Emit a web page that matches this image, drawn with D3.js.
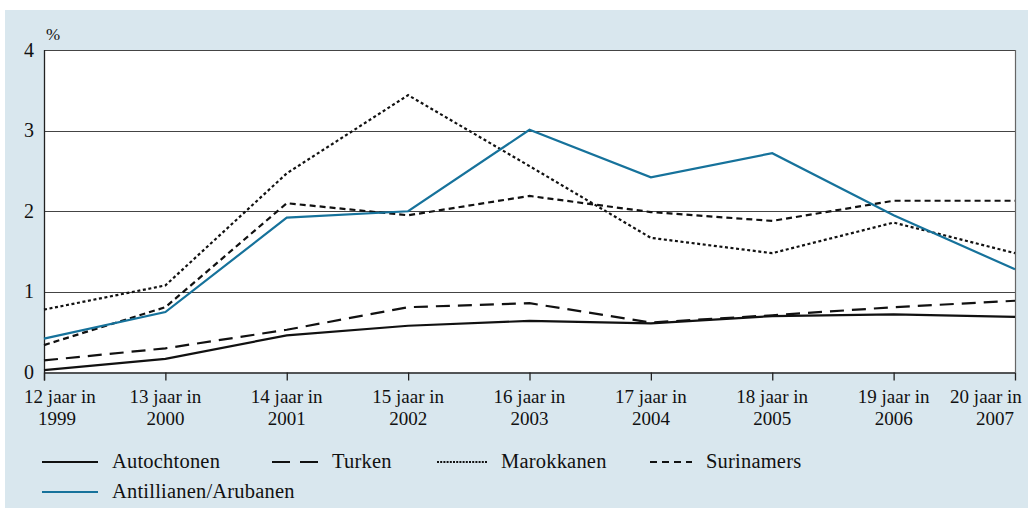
<!DOCTYPE html>
<html>
<head>
<meta charset="utf-8">
<script src="https://cdn.jsdelivr.net/npm/d3@7"></script>
<style>
  html, body { margin: 0; padding: 0; background: #ffffff; }
  svg { display: block; }
  text { font-family: "Liberation Serif", "DejaVu Serif", serif; fill: #111; }
</style>
</head>
<body>
<svg id="chart" width="1028" height="508"></svg>
<script>
// Leeftijd / jaar van meting
const categories = ["12 jaar in|1999", "13 jaar in|2000", "14 jaar in|2001", "15 jaar in|2002",
                    "16 jaar in|2003", "17 jaar in|2004", "18 jaar in|2005", "19 jaar in|2006",
                    "20 jaar in|2007"];

// Percentage per groep
const autochtonen = [0.03, 0.17, 0.46, 0.58, 0.64, 0.61, 0.70, 0.72, 0.69];
const turken      = [0.15, 0.30, 0.53, 0.81, 0.86, 0.62, 0.71, 0.81, 0.89];
const marokkanen  = [0.78, 1.08, 2.47, 3.44, 2.56, 1.67, 1.48, 1.86, 1.48];
const surinamers  = [0.34, 0.81, 2.10, 1.95, 2.19, 1.99, 1.88, 2.13, 2.13];
const antillianen = [0.42, 0.75, 1.92, 2.00, 3.01, 2.42, 2.72, 1.95, 1.28];

const yTicks = [0, 1, 2, 3, 4];
const yUnit = "%";

const series = [
  { name: "Autochtonen", values: autochtonen, color: "#111", dash: null },
  { name: "Turken", values: turken, color: "#111", dash: "14,8" },
  { name: "Marokkanen", values: marokkanen, color: "#111", dash: "3,2.6" },
  { name: "Surinamers", values: surinamers, color: "#111", dash: "6,4" },
  { name: "Antillianen/Arubanen", values: antillianen, color: "#16729b", dash: null }
];

const svg = d3.select("#chart");
const W = 1028, H = 508;
const plot = { left: 44, right: 1015, top: 50, bottom: 372.5 };

// Achtergrondvlak
svg.append("rect").attr("x", 5).attr("y", 10).attr("width", W - 5).attr("height", H - 10)
  .attr("fill", "#d9e7ee");

const x = d3.scalePoint().domain(categories).range([plot.left, plot.right]);
const y = d3.scaleLinear().domain([0, 4]).range([plot.bottom, plot.top]);

// Plotvlak
svg.append("rect")
  .attr("x", plot.left).attr("y", plot.top)
  .attr("width", plot.right - plot.left).attr("height", plot.bottom - plot.top)
  .attr("fill", "#ffffff");

// Rasterlijnen
svg.append("g")
  .selectAll("line")
  .data(yTicks.filter(d => d > 0))
  .join("line")
  .attr("x1", plot.left).attr("x2", plot.right)
  .attr("y1", d => Math.round(y(d)) + 0.5).attr("y2", d => Math.round(y(d)) + 0.5)
  .attr("stroke", "#444").attr("stroke-width", 1);

// Rechterrand
svg.append("line")
  .attr("x1", plot.right + 0.5).attr("x2", plot.right + 0.5)
  .attr("y1", plot.top).attr("y2", plot.bottom)
  .attr("stroke", "#666").attr("stroke-width", 1.2);

// Y-as
const yAxis = svg.append("g")
  .attr("transform", `translate(${plot.left},0)`)
  .call(d3.axisLeft(y).tickValues(yTicks).tickSize(0).tickPadding(10).tickFormat(d3.format("d")));
yAxis.select(".domain").remove();
yAxis.selectAll("text")
  .style("font-family", "'Liberation Serif', serif")
  .style("font-size", "20px").attr("fill", "#111").attr("dy", "0.3em");
svg.append("line")
  .attr("x1", plot.left + 0.5).attr("x2", plot.left + 0.5)
  .attr("y1", plot.top).attr("y2", plot.bottom + 8)
  .attr("stroke", "#222").attr("stroke-width", 1.3);

svg.append("text").attr("x", 46).attr("y", 40)
  .style("font-size", "17px").text(yUnit);

// X-as
const xAxis = svg.append("g")
  .attr("transform", `translate(0,${plot.bottom})`)
  .call(d3.axisBottom(x).tickSize(8).tickFormat(""));
xAxis.select(".domain").attr("stroke", "#222").attr("stroke-width", 1.3)
  .attr("d", `M${plot.left},0.5H${plot.right}`);
xAxis.selectAll(".tick line").attr("stroke", "#222").attr("stroke-width", 1.3);

// Labels aan de randen schuiven naar binnen
const n = categories.length;
const labelShift = (i, line) => {
  if (i === 0) return line === 0 ? 16 : 13;
  if (i === n - 1) return line === 0 ? -29 : -20;
  return 0;
};
const xl = svg.append("g").selectAll("text").data(categories).join("text")
  .attr("x", d => x(d)).attr("y", 403)
  .attr("text-anchor", "middle")
  .style("font-size", "19px");
xl.append("tspan").attr("x", (d, i) => x(d) + labelShift(i, 0)).attr("dy", 0).text(d => d.split("|")[0]);
xl.append("tspan").attr("x", (d, i) => x(d) + labelShift(i, 1)).attr("dy", 22).text(d => d.split("|")[1]);

// Lijnen
const line = d3.line().x((d, i) => x(categories[i])).y(d => y(d));
svg.append("g").selectAll("path").data(series).join("path")
  .attr("d", d => line(d.values))
  .attr("fill", "none")
  .attr("stroke", d => d.color)
  .attr("stroke-width", 2.2)
  .attr("stroke-dasharray", d => d.dash)
  .attr("stroke-linejoin", "miter");

// Legenda
const legendPos = [
  { x: 42, y: 462 }, { x: 272, y: 462 }, { x: 437, y: 462 }, { x: 650, y: 462 }, { x: 42, y: 492 }
];
const legendLen = [56, 46, 50, 42, 56];
const lg = svg.append("g").selectAll("g").data(series).join("g")
  .attr("transform", (d, i) => `translate(${legendPos[i].x},${legendPos[i].y})`);
lg.append("line")
  .attr("x1", 0).attr("x2", (d, i) => legendLen[i])
  .attr("y1", 0).attr("y2", 0)
  .attr("stroke", d => d.color).attr("stroke-width", 2.2)
  .attr("stroke-dasharray", (d, i) => i === 1 ? "18,10" : (i === 2 ? "2,1.2" : (i === 3 ? "7,5" : null)));
lg.append("text")
  .attr("x", (d, i) => legendLen[i] + 14).attr("y", 0).attr("dy", "0.3em")
  .style("font-size", "20.5px").style("letter-spacing", "0.2px").text(d => d.name);
</script>
</body>
</html>
